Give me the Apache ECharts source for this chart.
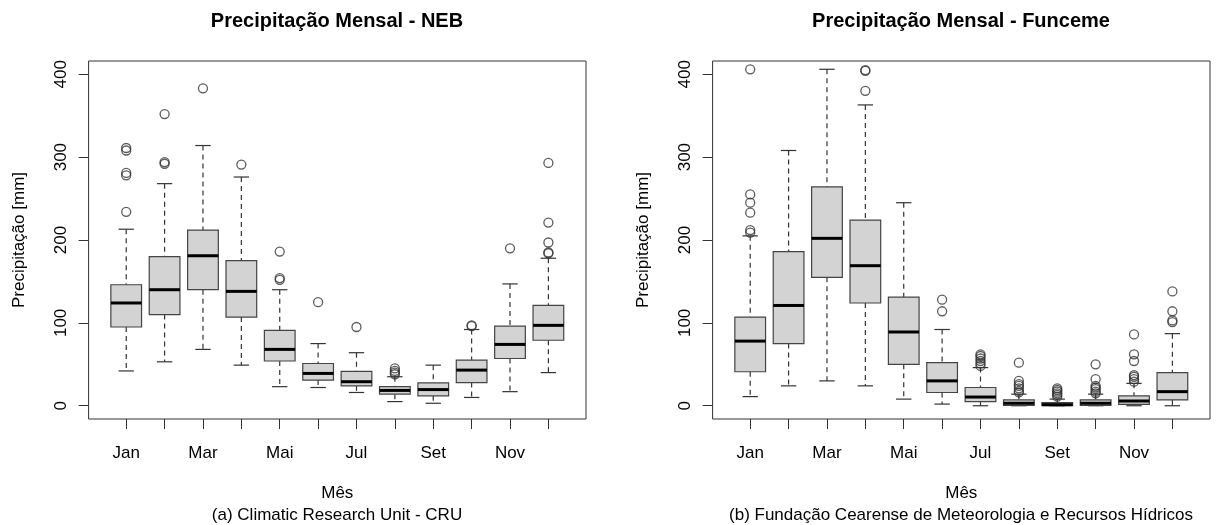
<!DOCTYPE html>
<html lang="pt">
<head>
<meta charset="UTF-8">
<title>Precipitação Mensal</title>
<script src="https://cdn.jsdelivr.net/npm/echarts@6/dist/echarts.min.js"></script>
<style>
  html, body { margin: 0; padding: 0; background: #fff; }
  #app { width: 1220px; height: 525px; }
</style>
</head>
<body>
<div id="app"></div>
<script>
  const months = ['Jan', 'Fev', 'Mar', 'Abr', 'Mai', 'Jun', 'Jul', 'Ago', 'Set', 'Out', 'Nov', 'Dez']
  const yTicks = [0, 100, 200, 300, 400]

  // CRU (NEB)
  const cruLow = [42, 53, 68, 49, 23, 22, 16, 5, 3, 10, 17, 40]
  const cruQ1 = [95, 110, 140, 107, 54, 31, 24, 14, 12, 28, 57, 79]
  const cruMed = [124, 140, 181, 138, 68, 39, 29, 18.5, 19.5, 43, 74, 97]
  const cruQ3 = [146, 180, 212, 175, 91, 51, 41.5, 23, 27.5, 55, 96, 121]
  const cruHigh = [213, 268, 314, 276, 140, 75, 64, 35, 49, 92, 147, 178]
  const cruOut = [
    [311, 308, 281, 278, 234], [352, 294, 292], [383], [291], [186, 154, 152], [125],
    [95], [45, 42, 40, 38], [], [97, 96], [190], [293, 221, 197, 185, 184]
  ]

  // Funceme
  const funLow = [11, 24, 30, 24, 8, 2, 0, 0, 0, 0, 0, 0]
  const funQ1 = [41, 75, 155, 124, 50, 16, 5, 0.5, 0, 0.5, 1.7, 7]
  const funMed = [78, 121, 202, 169, 89, 30, 10.5, 3, 1.3, 3, 5.7, 17]
  const funQ3 = [107, 186, 264, 224, 131, 52, 22, 7, 3.7, 7, 12, 40]
  const funHigh = [205, 308, 406, 363, 245, 92, 46, 14, 8, 14, 27, 87]
  const funOut = [
    [406, 255, 245, 233, 212, 209], [], [], [405, 404, 380], [], [128, 114],
    [62, 60, 57, 54, 51, 48], [52, 30, 26, 24, 21, 18, 16], [21, 19, 17, 15, 13, 11],
    [50, 32, 24, 22, 20, 17, 15], [86, 62, 54, 37, 35, 32, 29], [138, 114, 103, 101]
  ]

  const font = 'Liberation Sans, Arial, Helvetica, sans-serif'

  function boxData(lo, q1, md, q3, hi) {
    return months.map((m, i) => [i + 1, lo[i], q1[i], md[i], q3[i], hi[i]])
  }
  function outData(out) {
    let res = []
    out.forEach((arr, i) => arr.forEach(v => res.push([i + 1, v])))
    return res
  }

  function renderBox(params, api) {
    let x = api.value(0)
    let lo = api.coord([x, api.value(1)])
    let q1 = api.coord([x, api.value(2)])
    let md = api.coord([x, api.value(3)])
    let q3 = api.coord([x, api.value(4)])
    let hi = api.coord([x, api.value(5)])
    let w = api.size([0.8, 0])[0]
    let cx = lo[0], half = w / 2, st = w / 4
    let dashed = { stroke: '#333', lineWidth: 1.2, lineDash: [5, 4] }
    let solid = { stroke: '#333', lineWidth: 1.2 }
    return {
      type: 'group',
      children: [
        { type: 'line', shape: { x1: cx, y1: hi[1], x2: cx, y2: q3[1] }, style: dashed },
        { type: 'line', shape: { x1: cx, y1: q1[1], x2: cx, y2: lo[1] }, style: dashed },
        { type: 'line', shape: { x1: cx - st, y1: hi[1], x2: cx + st, y2: hi[1] }, style: solid },
        { type: 'line', shape: { x1: cx - st, y1: lo[1], x2: cx + st, y2: lo[1] }, style: solid },
        { type: 'rect', shape: { x: cx - half, y: q3[1], width: w, height: q1[1] - q3[1] },
          style: { fill: '#d3d3d3', stroke: '#444', lineWidth: 1.2 } },
        { type: 'line', shape: { x1: cx - half, y1: md[1], x2: cx + half, y2: md[1] },
          style: { stroke: '#000', lineWidth: 3 } }
      ]
    }
  }

  function xAxis(idx) {
    return {
      type: 'value', gridIndex: idx, min: 0.02, max: 12.98,
      name: 'Mês', nameLocation: 'middle', nameGap: 66,
      nameTextStyle: { fontFamily: font, fontSize: 17, color: '#000' },
      axisLine: { show: false, onZero: false },
      splitLine: { show: false },
      axisTick: { show: true, length: 10, lineStyle: { color: '#333' },
        customValues: months.map((m, i) => i + 1) },
      axisLabel: { margin: 26, fontFamily: font, fontSize: 17, color: '#000',
        customValues: [1, 3, 5, 7, 9, 11], formatter: v => months[v - 1] }
    }
  }
  function yAxis(idx) {
    return {
      type: 'value', gridIndex: idx, min: -16, max: 416,
      name: 'Precipitação [mm]', nameLocation: 'middle', nameGap: 61,
      nameTextStyle: { fontFamily: font, fontSize: 17, color: '#000' },
      axisLine: { show: false, onZero: false },
      splitLine: { show: false },
      axisTick: { show: true, length: 10, lineStyle: { color: '#333' }, customValues: yTicks },
      axisLabel: { rotate: 90, margin: 19, fontFamily: font, fontSize: 17, color: '#000',
        customValues: yTicks }
    }
  }

  let chart = echarts.init(document.getElementById('app'))
  let option = {
    animation: false,
    title: [
      { text: 'Precipitação Mensal - NEB', left: 337, top: 11, padding: 0, textAlign: 'center',
        textStyle: { fontFamily: font, fontSize: 20, fontWeight: 'bold', color: '#000' } },
      { text: 'Precipitação Mensal - Funceme', left: 961, top: 11, padding: 0, textAlign: 'center',
        textStyle: { fontFamily: font, fontSize: 20, fontWeight: 'bold', color: '#000' } },
      { text: '(a) Climatic Research Unit - CRU', left: 337, top: 507, padding: 0, textAlign: 'center',
        textStyle: { fontFamily: font, fontSize: 17, fontWeight: 'normal', color: '#000' } },
      { text: '(b) Fundação Cearense de Meteorologia e Recursos Hídricos', left: 961, top: 507, padding: 0,
        textAlign: 'center',
        textStyle: { fontFamily: font, fontSize: 17, fontWeight: 'normal', color: '#000' } }
    ],
    grid: [
      { left: 88.6, width: 497.4, top: 61, height: 358, show: true, borderColor: '#333', borderWidth: 1,
        backgroundColor: 'transparent' },
      { left: 712.6, width: 497.4, top: 61, height: 358, show: true, borderColor: '#333', borderWidth: 1,
        backgroundColor: 'transparent' }
    ],
    xAxis: [xAxis(0), xAxis(1)],
    yAxis: [yAxis(0), yAxis(1)],
    series: [
      { type: 'custom', xAxisIndex: 0, yAxisIndex: 0, renderItem: renderBox,
        encode: { x: 0, y: [1, 2, 3, 4, 5] }, data: boxData(cruLow, cruQ1, cruMed, cruQ3, cruHigh) },
      { type: 'scatter', xAxisIndex: 0, yAxisIndex: 0, symbol: 'circle', symbolSize: 9,
        itemStyle: { color: 'transparent', borderColor: '#333', borderWidth: 1.3 },
        data: outData(cruOut) },
      { type: 'custom', xAxisIndex: 1, yAxisIndex: 1, renderItem: renderBox,
        encode: { x: 0, y: [1, 2, 3, 4, 5] }, data: boxData(funLow, funQ1, funMed, funQ3, funHigh) },
      { type: 'scatter', xAxisIndex: 1, yAxisIndex: 1, symbol: 'circle', symbolSize: 9,
        itemStyle: { color: 'transparent', borderColor: '#333', borderWidth: 1.3 },
        data: outData(funOut) }
    ]
  }
  chart.setOption(option)
</script>
</body>
</html>
